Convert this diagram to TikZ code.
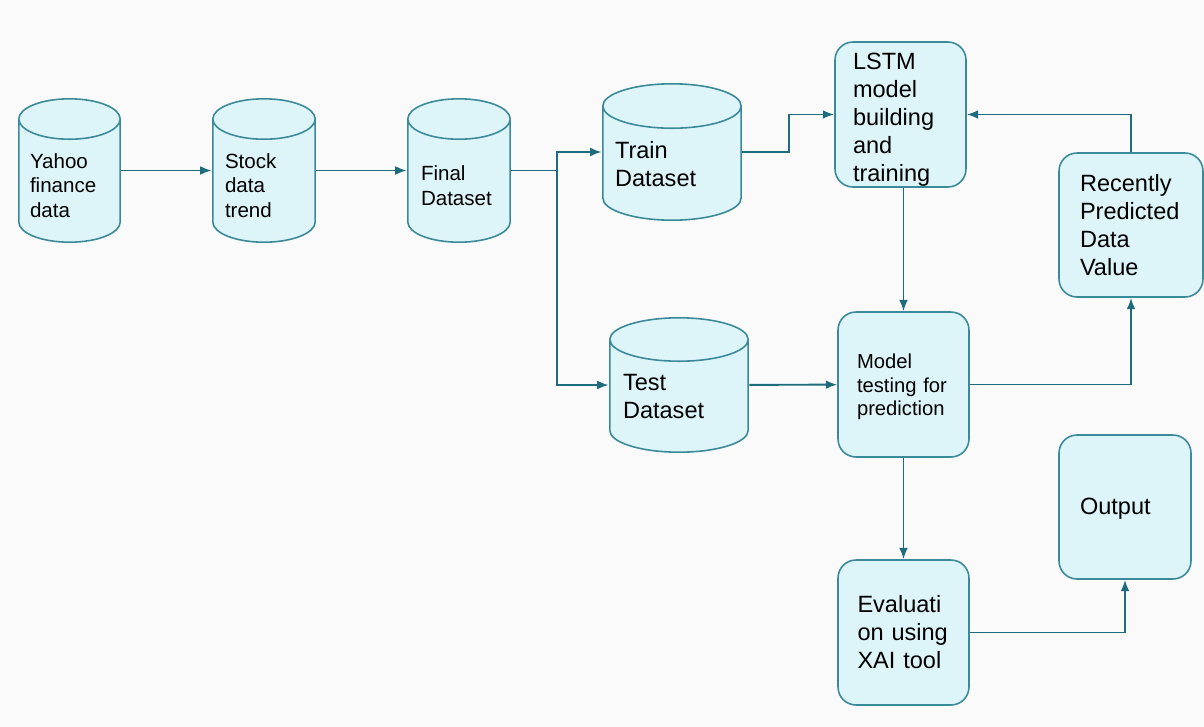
\documentclass[tikz,border=0pt]{standalone}
\usepackage{fontspec}
\setmainfont{Liberation Sans}
\usetikzlibrary{shapes,arrows,arrows.meta}

\definecolor{boxfill}{HTML}{DDF4F8}
\definecolor{boxline}{HTML}{3A8A9A}
\definecolor{flowline}{HTML}{1F6B7E}
\definecolor{paper}{HTML}{FAFAFA}

% data store drawn as a cylinder: width, height, radius of the end ellipse
\tikzset{
  store/.style n args={3}{rectangle,inner sep=0pt,align=left,
    minimum width=#1,minimum height=#2,
    font=\fontsize{11.7}{14.2}\selectfont,
    path picture={
      \draw[boxline,fill=boxfill,line width=0.9pt]
        ([xshift=0.45pt,yshift=-#3]path picture bounding box.north west)
        -- ([xshift=0.45pt,yshift=#3]path picture bounding box.south west)
        arc[start angle=180,end angle=360,x radius=#1/2-0.45pt,y radius=#3-0.45pt]
        -- ([xshift=-0.45pt,yshift=-#3]path picture bounding box.north east)
        arc[start angle=0,end angle=180,x radius=#1/2-0.45pt,y radius=#3-0.45pt]
        -- cycle
        ([xshift=0.45pt,yshift=-#3]path picture bounding box.north west)
        arc[start angle=180,end angle=360,x radius=#1/2-0.45pt,y radius=#3-0.45pt];
    }},
}

\begin{document}
\begin{tikzpicture}[x=0.02cm,y=-0.02cm,>={Latex[length=6.5pt,width=5pt]},
  bigtext/.style={font=\fontsize{13.4}{15.9}\selectfont},
  stage/.style={rectangle,rounded corners=0.36cm,draw=boxline,fill=boxfill,
    line width=0.9pt,inner sep=0pt,align=left,
    font=\fontsize{13.4}{15.9}\selectfont},
  flow/.style={->,draw=flowline,line width=1.1pt}]
  \useasboundingbox[fill=paper] (0,0) rectangle (1204,727);

  % data stores
  \node (yahoo) [store={2.06cm}{2.9cm}{0.42cm},text width=1.58cm,text height=0pt,text depth=2.8pt] at (69.5,170.5) {Yahoo\\finance\\data};
  \node (trend) [store={2.08cm}{2.9cm}{0.42cm},text width=1.56cm,text height=0pt,text depth=2.8pt] at (264,170.5) {Stock\\data\\trend};
  \node (final) [store={2.08cm}{2.9cm}{0.42cm},text width=1.52cm,text height=11.6pt,text depth=0pt] at (459,170.5) {Final\\Dataset};
  \node (train) [store={2.8cm}{2.76cm}{0.46cm},bigtext,text width=2.28cm,text height=7.6pt,text depth=0pt] at (672,152) {Train\\Dataset};
  \node (test) [store={2.8cm}{2.72cm}{0.45cm},bigtext,text width=2.24cm,text height=6.6pt,text depth=0pt] at (679,385) {Test\\Dataset};

  % processing steps
  \node (lstm) [stage,minimum width=2.62cm,minimum height=2.9cm,text width=1.9cm,text height=9pt,text depth=60pt] at (900.5,114.5) {LSTM\\model\\building\\and\\training};
  \node (recent) [stage,minimum width=2.88cm,minimum height=2.88cm,text width=2.04cm] at (1131,225) {Recently\\Predicted\\Data\\Value};
  \node (testing) [stage,minimum width=2.62cm,minimum height=2.9cm,text width=1.86cm,text height=5pt,text depth=23.6pt,font=\fontsize{11.5}{13.6}\selectfont] at (903.5,384.5) {Model\\testing for\\prediction};
  \node (evaluation) [stage,minimum width=2.62cm,minimum height=2.9cm,text width=1.84cm] at (903.5,632.5) {Evaluati\\on using\\XAI tool};
  \node (output) [stage,minimum width=2.64cm,minimum height=2.88cm,text width=1.8cm,text height=9pt,text depth=0pt] at (1125,507) {Output};

  % connectors
  \draw[flow] (yahoo) -- (trend);
  \draw[flow] (trend) -- (final);
  \draw[flow] (final.east) -- ++(46,0) |- (train.west);
  \draw[flow] (final.east) -- ++(46,0) |- (test.west);
  \draw[flow] (train.east) -- ++(47,0) |- (lstm.west);
  \draw[flow] (test) -- (testing);
  \draw[flow] (testing.north |- lstm.south) -- (testing.north);
  \draw[flow] (testing.east) -| (recent.south);
  \draw[flow] (recent.north) |- (lstm.east);
  \draw[flow] (testing) -- (evaluation);
  \draw[flow] (evaluation.east) -| (output.south);
\end{tikzpicture}
\end{document}
